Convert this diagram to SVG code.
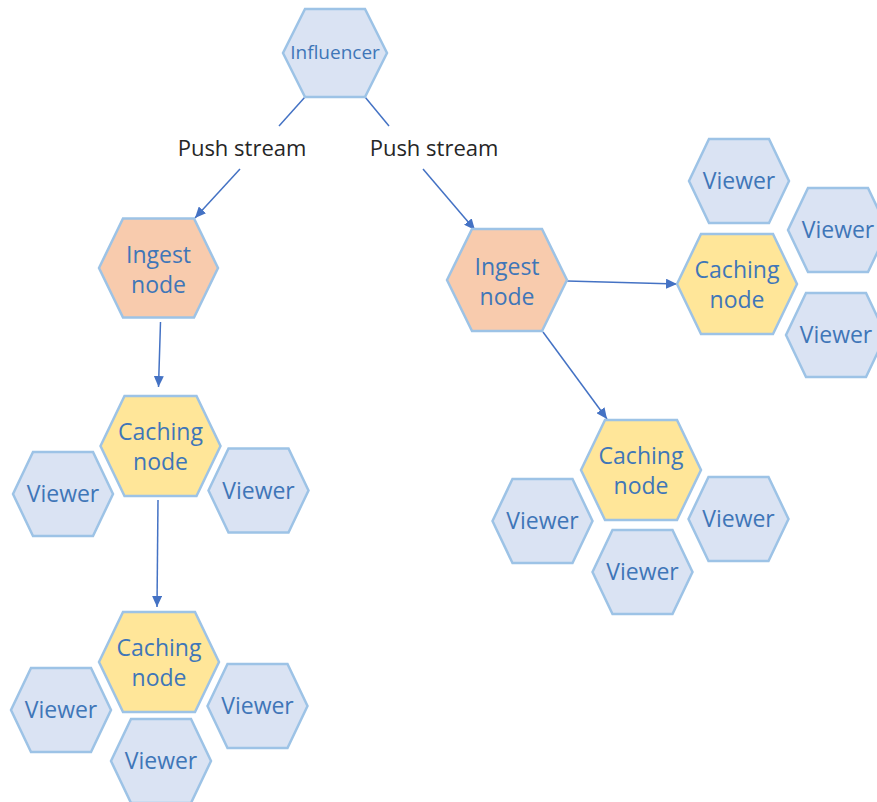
<svg xmlns="http://www.w3.org/2000/svg" width="877" height="802" viewBox="0 0 877 802">
<style>
.hex{stroke:#9DC3E6;stroke-width:2.5;stroke-linejoin:miter}
.viewer{fill:#DAE3F3}
.ingest{fill:#F8CBAD}
.caching{fill:#FFE699}
.lbl{font-family:"Open Sans","Liberation Sans",sans-serif;font-size:23px;fill:#3F76B8;text-anchor:middle}
.small{font-size:19px}
.edge{font-family:"Open Sans","Liberation Sans",sans-serif;font-size:22px;fill:#262626;text-anchor:middle}
.conn{stroke:#4472C4;stroke-width:1.5;fill:none}
</style>
<defs>
<marker id="arr" markerUnits="userSpaceOnUse" markerWidth="11" markerHeight="10" refX="11" refY="5" orient="auto">
<path d="M0,0 L11,5 L0,10 z" fill="#4472C4"/>
</marker>
</defs>
<rect width="877" height="802" fill="#FFFFFF"/>

<g id="connectors">
<line class="conn" x1="305" y1="97" x2="279" y2="126"/>
<line class="conn" x1="240" y1="169" x2="195" y2="218" marker-end="url(#arr)"/>
<line class="conn" x1="365" y1="97" x2="389" y2="126"/>
<line class="conn" x1="423" y1="169" x2="475" y2="230" marker-end="url(#arr)"/>
<line class="conn" x1="160.5" y1="322" x2="158.5" y2="387" marker-end="url(#arr)"/>
<line class="conn" x1="158" y1="500" x2="157" y2="607" marker-end="url(#arr)"/>
<line class="conn" x1="567" y1="281" x2="677" y2="284" marker-end="url(#arr)"/>
<line class="conn" x1="543" y1="332" x2="607" y2="419" marker-end="url(#arr)"/>
<text class="edge" x="242" y="156">Push stream</text>
<text class="edge" x="434" y="156">Push stream</text>
</g>

<g id="influencer">
<polygon class="hex viewer" points="283,53 305,9 365,9 387,53 365,97 305,97"/>
<text class="lbl small" x="335" y="59">Influencer</text>
</g>

<g id="ingest-left">
<polygon class="hex ingest" points="99,268 123,218.5 194,218.5 218,268 194,317.5 123,317.5"/>
<text class="lbl" x="158.5" y="263">Ingest</text>
<text class="lbl" x="158.5" y="293">node</text>
</g>

<g id="caching-left-1">
<polygon class="hex caching" points="100.5,446 124.5,396 196.5,396 220.5,446 196.5,496 124.5,496"/>
<text class="lbl" x="160.5" y="440">Caching</text>
<text class="lbl" x="160.5" y="470">node</text>
</g>
<g id="viewer-l1a">
<polygon class="hex viewer" points="13,494 33,452 93,452 113,494 93,536 33,536"/>
<text class="lbl" x="63" y="502">Viewer</text>
</g>
<g id="viewer-l1b">
<polygon class="hex viewer" points="208.5,490.5 228.5,448.5 288.5,448.5 308.5,490.5 288.5,532.5 228.5,532.5"/>
<text class="lbl" x="258.5" y="498.5">Viewer</text>
</g>

<g id="caching-left-2">
<polygon class="hex caching" points="99,662 123,612 195,612 219,662 195,712 123,712"/>
<text class="lbl" x="159" y="656">Caching</text>
<text class="lbl" x="159" y="686">node</text>
</g>
<g id="viewer-l2a">
<polygon class="hex viewer" points="11,710 31,668 91,668 111,710 91,752 31,752"/>
<text class="lbl" x="61" y="718">Viewer</text>
</g>
<g id="viewer-l2b">
<polygon class="hex viewer" points="207.5,706 227.5,664 287.5,664 307.5,706 287.5,748 227.5,748"/>
<text class="lbl" x="257.5" y="714">Viewer</text>
</g>
<g id="viewer-l2c">
<polygon class="hex viewer" points="111,761 131,719 191,719 211,761 191,803 131,803"/>
<text class="lbl" x="161" y="769">Viewer</text>
</g>

<g id="ingest-right">
<polygon class="hex ingest" points="447,280 472,229 542,229 567,280 542,331 472,331"/>
<text class="lbl" x="507" y="275">Ingest</text>
<text class="lbl" x="507" y="305">node</text>
</g>

<g id="caching-right-1">
<polygon class="hex caching" points="677,284 701,234 773,234 797,284 773,334 701,334"/>
<text class="lbl" x="737" y="278">Caching</text>
<text class="lbl" x="737" y="308">node</text>
</g>
<g id="viewer-r1a">
<polygon class="hex viewer" points="689,181 709,139 769,139 789,181 769,223 709,223"/>
<text class="lbl" x="739" y="189">Viewer</text>
</g>
<g id="viewer-r1b">
<polygon class="hex viewer" points="788,230 808,188 868,188 888,230 868,272 808,272"/>
<text class="lbl" x="838" y="238">Viewer</text>
</g>
<g id="viewer-r1c">
<polygon class="hex viewer" points="786,335 806,293 866,293 886,335 866,377 806,377"/>
<text class="lbl" x="836" y="343">Viewer</text>
</g>

<g id="caching-right-2">
<polygon class="hex caching" points="581,470 605,420 677,420 701,470 677,520 605,520"/>
<text class="lbl" x="641" y="464">Caching</text>
<text class="lbl" x="641" y="494">node</text>
</g>
<g id="viewer-r2a">
<polygon class="hex viewer" points="492.5,521 512.5,479 572.5,479 592.5,521 572.5,563 512.5,563"/>
<text class="lbl" x="542.5" y="529">Viewer</text>
</g>
<g id="viewer-r2b">
<polygon class="hex viewer" points="688.5,519 708.5,477 768.5,477 788.5,519 768.5,561 708.5,561"/>
<text class="lbl" x="738.5" y="527">Viewer</text>
</g>
<g id="viewer-r2c">
<polygon class="hex viewer" points="592.5,572 612.5,530 672.5,530 692.5,572 672.5,614 612.5,614"/>
<text class="lbl" x="642.5" y="580">Viewer</text>
</g>
</svg>
